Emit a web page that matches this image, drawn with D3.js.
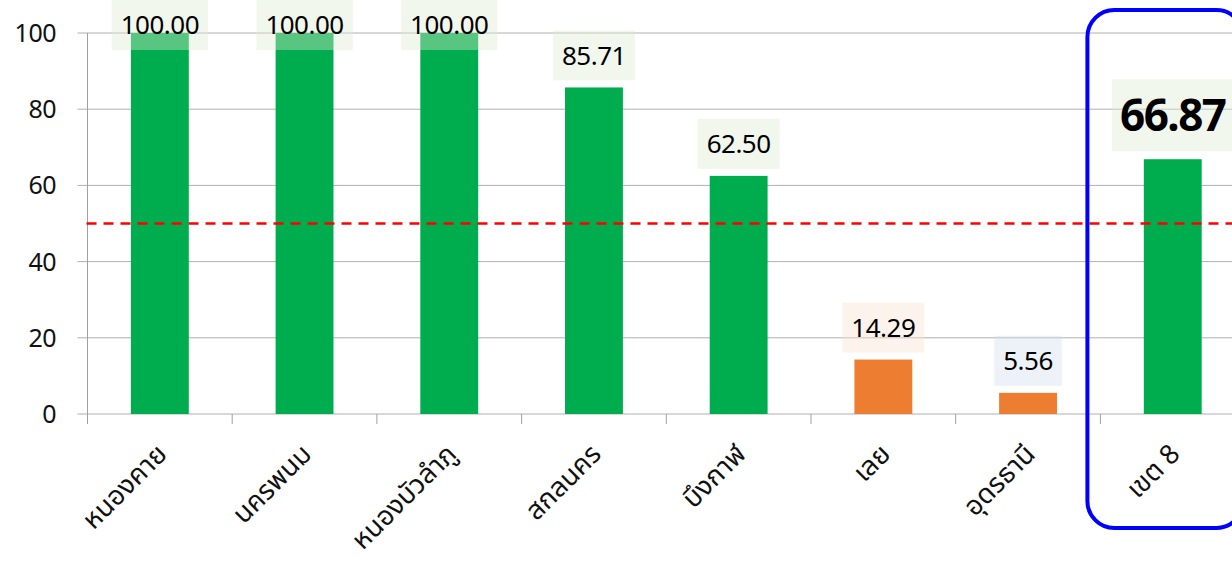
<!DOCTYPE html>
<html><head><meta charset="utf-8">
<script src="https://cdn.jsdelivr.net/npm/d3@7"></script>
<style>
html,body{margin:0;padding:0;background:#fff;overflow:hidden}
text{font-family:"Noto Sans","Noto Sans Thai",sans-serif}
</style></head>
<body>
<svg id="chart" width="1232" height="563"></svg>
<script>
const categories = ["หนองคาย","นครพนม","หนองบัวลำภู","สกลนคร","บึงกาฬ","เลย","อุดรธานี","เขต 8"];
const values = [100.00, 100.00, 100.00, 85.71, 62.50, 14.29, 5.56, 66.87];
const yTicks = [0, 20, 40, 60, 80, 100];
const target = 50;
const labelBgKind = ["g","g","g","g","g","o","b","g"];

const svg = d3.select("#chart");
const W = 1232, H = 563;
const left = 87.5, bandW = 144.7;
const x = d3.scaleBand().domain(categories).range([left, left + bandW * categories.length]).padding(0);
const y = d3.scaleLinear().domain([0, 100]).range([414, 33]);
const barW = x.bandwidth() * 0.4;
const green = "#00ad4e", orange = "#ed7d31";
const bgFill = {g: "#dcebcf", o: "#f7e1cf", b: "#d2dcee"};

// gridlines
svg.append("g").selectAll("line").data(yTicks).join("line")
  .attr("x1", left - 10).attr("x2", W).attr("y1", d => y(d)).attr("y2", d => y(d))
  .attr("stroke", "#b0b0b0").attr("stroke-width", 1);
// y axis line
svg.append("line").attr("x1", left).attr("x2", left).attr("y1", y(100)).attr("y2", y(0) + 10)
  .attr("stroke", "#a0a0a0").attr("stroke-width", 1);
// y tick labels
svg.append("g").selectAll("text").data(yTicks).join("text")
  .attr("x", 56).attr("y", d => y(d)).attr("dy", "0.36em").attr("text-anchor", "end")
  .attr("font-size", 25).attr("fill", "#111").attr("letter-spacing", "-0.5").text(d => d);
// x ticks at band boundaries
const bounds = categories.map(c => x(c));
svg.append("g").selectAll("line").data(bounds).join("line")
  .attr("x1", d => d).attr("x2", d => d).attr("y1", y(0)).attr("y2", y(0) + 10)
  .attr("stroke", "#a0a0a0").attr("stroke-width", 1);

// bars
svg.append("g").selectAll("rect").data(values).join("rect")
  .attr("x", (d, i) => x(categories[i]) + (x.bandwidth() - barW) / 2)
  .attr("width", barW)
  .attr("y", d => y(d)).attr("height", d => y(0) - y(d))
  .attr("fill", d => d >= target ? green : orange);

// target line
svg.append("line").attr("x1", left - 1).attr("x2", W).attr("y1", y(target)).attr("y2", y(target))
  .attr("stroke", "#ff0000").attr("stroke-width", 2.5).attr("stroke-dasharray", "10,7");

// labels
const lg = svg.append("g");
values.forEach((v, i) => {
  const last = i === values.length - 1;
  const cx = x(categories[i]) + x.bandwidth() / 2;
  const fs = last ? 44 : 26;
  const bh = last ? 72 : 50;
  const pad = last ? 8 : 9;
  const g = lg.append("g");
  const rect = g.append("rect");
  const t = g.append("text").attr("text-anchor", "middle").attr("font-size", fs)
    .attr("font-weight", last ? "bold" : "normal").attr("fill", "#000")
    .attr("letter-spacing", last ? "-1.5" : "-0.5")
    .text(v.toFixed(2));
  const tw = t.node().getComputedTextLength();
  let bottom = y(v) - (last ? 8 : 7);
  let top = Math.max(0, bottom - bh);
  bottom = top + bh;
  rect.attr("x", cx - tw / 2 - pad).attr("width", tw + 2 * pad)
    .attr("y", top).attr("height", bh)
    .attr("fill", bgFill[labelBgKind[i]]).attr("fill-opacity", 0.4);
  t.attr("x", cx).attr("y", (top + bottom) / 2).attr("dy", "0.36em");
});

// x labels
svg.append("g").selectAll("text").data(categories).join("text")
  .attr("transform", c => `translate(${x(c) + x.bandwidth() / 2 + 2},${y(0) + 35}) rotate(-45)`)
  .attr("text-anchor", "end").attr("dy", "0.35em")
  .attr("font-size", 27).attr("fill", "#111").text(c => c);

// highlight box
const hx = x(categories[categories.length - 1]);
svg.append("rect").attr("x", hx - 13).attr("y", 10).attr("width", 156).attr("height", 518)
  .attr("rx", 27).attr("ry", 27).attr("fill", "none").attr("stroke", "#0000ff").attr("stroke-width", 4);
</script>
</body></html>
